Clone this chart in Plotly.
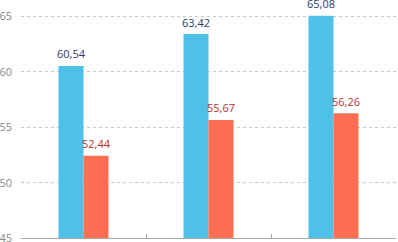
import plotly.graph_objects as go

categories = ["A", "B", "C"]
series1 = [60.54, 63.42, 65.08]
series2 = [52.44, 55.67, 56.26]
y_ticks = [45, 50, 55, 60, 65]

colors = ["#4FC1E9", "#FC6E51"]
label_colors = ["#2B3A67", "#C0302B"]

fig = go.Figure()
for vals, col in zip([series1, series2], colors):
    fig.add_trace(go.Bar(x=categories, y=vals, marker=dict(color=col, line=dict(width=0)),
                         hoverinfo="skip"))

annotations = []
for vals, lc, xs in zip([series1, series2], label_colors, [-12.5, 12.5]):
    for c, v in zip(categories, vals):
        annotations.append(dict(
            x=c, y=v, xref="x", yref="y", text=f"{v:.2f}".replace(".", ","),
            showarrow=False, xshift=xs, yshift=12, yanchor="middle",
            font=dict(color=lc, size=11, family="Open Sans")))

fig.update_layout(
    width=398, height=242,
    margin=dict(l=21, r=2, t=0, b=4),
    paper_bgcolor="white", plot_bgcolor="white",
    barmode="group", bargap=0.6, bargroupgap=0,
    showlegend=False,
    separators=",.",
    annotations=annotations,
    font=dict(family="Open Sans", size=11, color="#888888"),
    xaxis=dict(showticklabels=False, tickson="boundaries", ticks="inside", ticklen=4,
               tickcolor="#aaaaaa", showline=True, linecolor="#aaaaaa", linewidth=1,
               showgrid=False, zeroline=False),
    yaxis=dict(range=[45, 66.5], tickvals=y_ticks, showgrid=True, gridcolor="#c8c8c8",
               griddash="dot", gridwidth=1, zeroline=False, showline=False,
               automargin=False, ticklabelstandoff=8, ticklabeloverflow="allow",
               tickfont=dict(size=11, color="#888888")),
)
fig.write_html("out.html", config={"displayModeBar": False},
               post_script="document.body.style.margin='0';document.body.style.overflow='hidden';")
